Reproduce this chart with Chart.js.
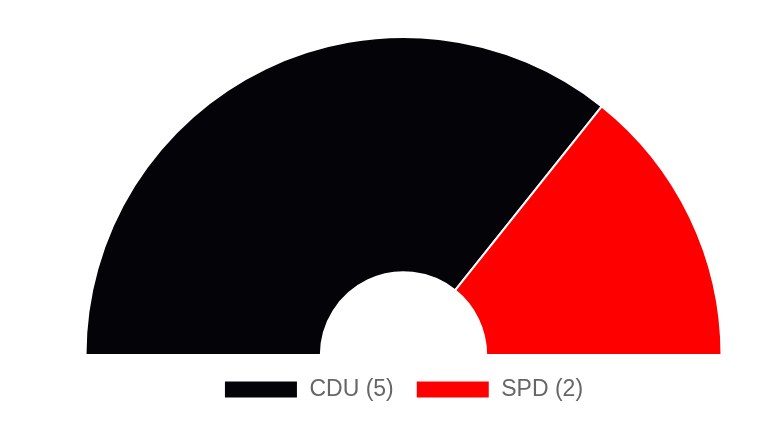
<!DOCTYPE html>
<html>
<head>
<meta charset="utf-8">
<script src="https://cdn.jsdelivr.net/npm/chart.js@4.4.1/dist/chart.umd.min.js"></script>
<style>
  html, body { margin: 0; padding: 0; background: #fff; }
  #wrap { width: 780px; height: 436px; position: relative; }
</style>
</head>
<body>
<div id="wrap"><canvas id="c"></canvas></div>
<script>
const parties = ['CDU', 'SPD']
const seats = [5, 2]
const partyColors = ['#040307', '#ff0000']

const labels = parties.map((p, i) => `${p} (${seats[i]})`)

new Chart(document.getElementById('c'), {
  type: 'doughnut',
  data: {
    labels,
    datasets: [{
      data: seats,
      backgroundColor: partyColors,
      borderColor: '#fff',
      borderWidth: 2
    }]
  },
  options: {
    animation: false,
    responsive: true,
    maintainAspectRatio: false,
    rotation: -90,
    circumference: 180,
    cutout: '26%',
    layout: {
      padding: { top: 36, left: 84, right: 57, bottom: 25 }
    },
    plugins: {
      tooltip: { enabled: false },
      legend: {
        position: 'bottom',
        labels: {
          boxWidth: 74,
          boxHeight: 18,
          padding: 22,
          color: '#666',
          font: { family: 'Arial, "Liberation Sans", sans-serif', size: 23 }
        }
      }
    }
  }
})
</script>
</body>
</html>
